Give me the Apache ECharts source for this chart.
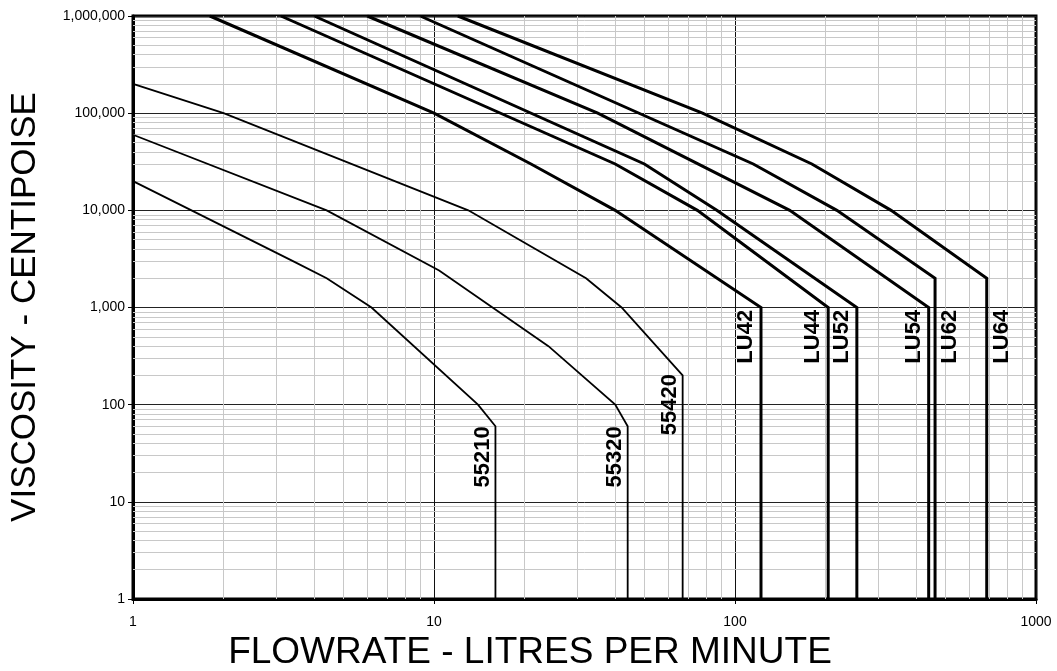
<!DOCTYPE html>
<html>
<head>
<meta charset="utf-8">
<script src="https://cdn.jsdelivr.net/npm/echarts@6/dist/echarts.min.js"></script>
<style>
html,body{margin:0;padding:0;background:#fff;}
#chart{width:1057px;height:671px;}
</style>
</head>
<body>
<div id="chart"></div>
<script>
// ---- data (flowrate l/min, viscosity cP) ----
const names = ['55210','55320','55420','LU42','LU44','LU52','LU54','LU62','LU64'];

const flow55210 = [1, 3.4, 4.4, 6.2, 14, 16, 16];
const visc55210 = [20000, 3000, 2000, 1000, 100, 60, 1];

const flow55320 = [1, 4.4, 10.4, 24, 40, 44, 44];
const visc55320 = [60000, 10000, 2400, 400, 100, 60, 1];

const flow55420 = [1, 2, 13, 32, 42, 67, 67];
const visc55420 = [200000, 100000, 10000, 2000, 1000, 200, 1];

const flowLU42 = [1.8, 10, 21, 40, 122, 122];
const viscLU42 = [1000000, 100000, 30000, 10000, 1000, 1];

const flowLU44 = [3.1, 40, 75, 204, 204];
const viscLU44 = [1000000, 30000, 10000, 1000, 1];

const flowLU52 = [4, 50, 87, 254, 254];
const viscLU52 = [1000000, 30000, 10000, 1000, 1];

const flowLU54 = [6, 35, 152, 440, 440];
const viscLU54 = [1000000, 100000, 10000, 1000, 1];

const flowLU62 = [9, 115, 218, 462, 462];
const viscLU62 = [1000000, 30000, 10000, 2000, 1];

const flowLU64 = [12, 78, 180, 330, 686, 686];
const viscLU64 = [1000000, 100000, 30000, 10000, 2000, 1];

// viscosity at which each curve's label sits (on its vertical segment)
const labelVisc = [29, 29, 100, 500, 500, 500, 500, 500, 500];

const xTicks = [1, 10, 100, 1000];
const yTicks = [1, 10, 100, 1000, 10000, 100000, 1000000];
const minorMultipliers = [2, 3, 4, 5, 6, 7, 8, 9];

// ---- build ----
const flows = [flow55210, flow55320, flow55420, flowLU42, flowLU44, flowLU52, flowLU54, flowLU62, flowLU64];
const viscs = [visc55210, visc55320, visc55420, viscLU42, viscLU44, viscLU52, viscLU54, viscLU62, viscLU64];
const labelSide = [-1, -1, -1, -1, -1, -1, -1, 1, 1];

const FONT = '"Liberation Sans", Arial, Helvetica, sans-serif';

const series = names.map((n, i) => {
  const thick = n.startsWith('LU');
  const f = flows[i], v = viscs[i];
  return {
    name: n,
    type: 'line',
    data: f.map((x, k) => [x, v[k]]),
    showSymbol: false,
    symbol: 'none',
    silent: true,
    animation: false,
    z: 5,
    lineStyle: { color: '#000', width: thick ? 3 : 1.8, join: 'miter' },
    markPoint: {
      silent: true,
      animation: false,
      symbol: 'circle',
      symbolSize: 0,
      data: [{ coord: [f[f.length - 1], labelVisc[i]] }],
      label: {
        show: true,
        formatter: n,
        rotate: 90,
        // offset is applied in the rotated frame: second component moves horizontally
        offset: [0, labelSide[i] * (thick ? 15 : 12.5)],
        color: '#000',
        fontFamily: FONT,
        fontWeight: 'bold',
        fontSize: 22,
        align: 'center',
        verticalAlign: 'middle'
      }
    }
  };
});

// minor grid lines (2..9 within each decade)
const xMinor = [];
xTicks.slice(0, -1).forEach(d => minorMultipliers.forEach(m => xMinor.push({ xAxis: d * m })));
const yMinor = [];
yTicks.slice(0, -1).forEach(d => minorMultipliers.forEach(m => yMinor.push({ yAxis: d * m })));

series.unshift({
  name: 'minorGrid',
  type: 'line',
  data: [[1, 1]],
  showSymbol: false,
  symbol: 'none',
  silent: true,
  animation: false,
  z: 1,
  lineStyle: { opacity: 0 },
  markLine: {
    silent: true,
    animation: false,
    symbol: ['none', 'none'],
    label: { show: false },
    emphasis: { disabled: true },
    lineStyle: { color: '#c8c8c8', width: 1, type: 'solid' },
    data: xMinor.concat(yMinor)
  }
});

const chart = echarts.init(document.getElementById('chart'), null, { renderer: 'canvas' });
chart.setOption({
  animation: false,
  backgroundColor: '#fff',
  grid: {
    left: 133, right: 21, top: 16, bottom: 72,
    show: true, borderColor: '#000', borderWidth: 3, backgroundColor: 'transparent'
  },
  xAxis: {
    type: 'log', logBase: 10, min: xTicks[0], max: xTicks[xTicks.length - 1],
    axisLine: { show: true, lineStyle: { color: '#000', width: 3 } },
    axisTick: { show: true, inside: false, length: 5, lineStyle: { color: '#000', width: 1 } },
    axisLabel: { color: '#000', fontFamily: FONT, fontSize: 14, margin: 16, formatter: v => String(Math.round(v)) },
    splitLine: { show: true, lineStyle: { color: '#111', width: 1 } },
    minorTick: { show: false }, minorSplitLine: { show: false }
  },
  yAxis: {
    type: 'log', logBase: 10, min: yTicks[0], max: yTicks[yTicks.length - 1],
    axisLine: { show: true, lineStyle: { color: '#000', width: 3 } },
    axisTick: { show: true, inside: false, length: 5, lineStyle: { color: '#000', width: 1 } },
    axisLabel: {
      color: '#000', fontFamily: FONT, fontSize: 14, margin: 8,
      formatter: v => Math.round(v).toLocaleString('en-US')
    },
    splitLine: { show: true, lineStyle: { color: '#222', width: 1 } },
    minorTick: { show: false }, minorSplitLine: { show: false }
  },
  graphic: [
    {
      type: 'text', x: 530, y: 653, silent: true,
      style: { text: 'FLOWRATE - LITRES PER MINUTE', font: '37px ' + FONT, fill: '#000', align: 'center', verticalAlign: 'middle' }
    },
    {
      type: 'text', x: 25, y: 307, rotation: Math.PI / 2, silent: true,
      style: { text: 'VISCOSITY - CENTIPOISE', font: '35px ' + FONT, fill: '#000', align: 'center', verticalAlign: 'middle' }
    }
  ],
  series: series
});
</script>
</body>
</html>
